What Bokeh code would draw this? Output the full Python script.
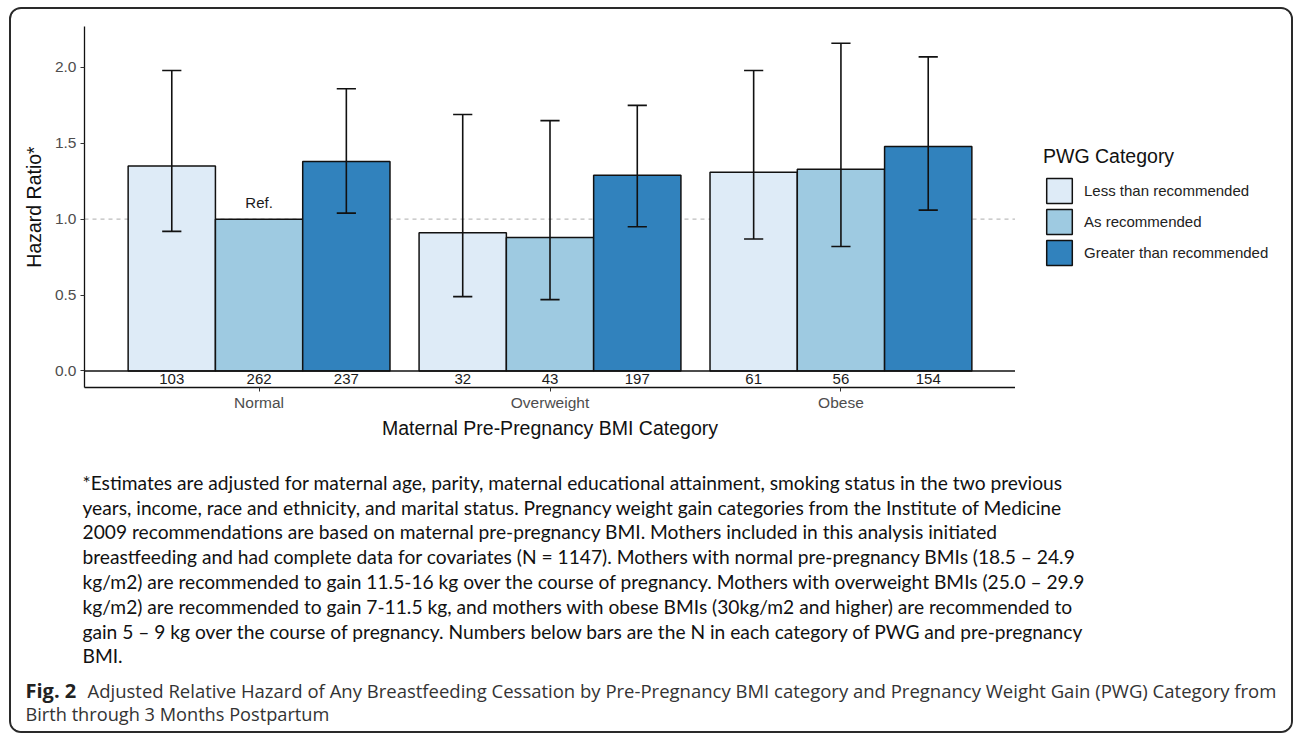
import math
from bokeh.plotting import figure
from bokeh.layouts import column, row
from bokeh.models import (ColumnDataSource, Legend, LegendItem, Label, Span, Range1d,
                          FixedTicker, PrintfTickFormatter)
from bokeh.embed import file_html
from bokeh.resources import INLINE
from bokeh.core.properties import value

nan = float("nan")

# ---------------- data ----------------
bmi_groups = ["Normal", "Overweight", "Obese"]
pwg_categories = ["Less than recommended", "As recommended", "Greater than recommended"]
hr_less = [1.35, 0.91, 1.31]
hr_as = [1.00, 0.88, 1.33]
hr_greater = [1.38, 1.29, 1.48]
lo_less = [0.92, 0.49, 0.87]
lo_as = [nan, 0.47, 0.82]
lo_greater = [1.04, 0.95, 1.06]
hi_less = [1.98, 1.69, 1.98]
hi_as = [nan, 1.65, 2.16]
hi_greater = [1.86, 1.75, 2.07]
n_less = [103, 32, 61]
n_as = [262, 43, 56]
n_greater = [237, 197, 154]
y_ticks = [0.0, 0.5, 1.0, 1.5, 2.0]
reference_text = "Ref."
legend_title = "PWG Category"
x_title = "Maternal Pre-Pregnancy BMI Category"
y_title = "Hazard Ratio*"

footnote_lines = [
    "*Estimates are adjusted for maternal age, parity, maternal educational attainment, smoking status in the two previous",
    "years, income, race and ethnicity, and marital status. Pregnancy weight gain categories from the Institute of Medicine",
    "2009 recommendations are based on maternal pre-pregnancy BMI. Mothers included in this analysis initiated",
    "breastfeeding and had complete data for covariates (N = 1147). Mothers with normal pre-pregnancy BMIs (18.5 \u2013 24.9",
    "kg/m2) are recommended to gain 11.5-16 kg over the course of pregnancy. Mothers with overweight BMIs (25.0 \u2013 29.9",
    "kg/m2) are recommended to gain 7-11.5 kg, and mothers with obese BMIs (30kg/m2 and higher) are recommended to",
    "gain 5 \u2013 9 kg over the course of pregnancy.  Numbers below bars are the N in each category of PWG and pre-pregnancy",
    "BMI.",
]
caption_bold = "Fig. 2"
caption_line1 = ("Adjusted Relative Hazard of Any Breastfeeding Cessation by Pre-Pregnancy BMI category "
                 "and Pregnancy Weight Gain (PWG) Category from")
caption_line2 = "Birth through 3 Months Postpartum"

# ---------------- style / layout ----------------
colors = ["#deebf7", "#9ecae1", "#3182bd"]
offsets = [-0.3, 0.0, 0.3]
bar_w = 0.3
cap_half = 0.033
OX, OY = 11, 9            # offset of the inner area on the page
W = 1280
W1 = 1015 - OX            # chart figure width (frame right edge = figure right edge)
W2 = W - W1               # legend figure width
H1 = 436                  # chart part
H2 = 286                  # text part
FL, FT, FB = 84 - OX, 17, 378
FONT = "Liberation Sans"

p = figure(width=W1, height=H1, x_range=(0.4, 3.6), y_range=(-0.109, 2.27),
           output_backend="svg", toolbar_location=None, frame_align=False,
           min_border_left=FL, min_border_right=0,
           min_border_top=FT, min_border_bottom=H1 - FB)
p.xgrid.visible = False
p.ygrid.visible = False
p.outline_line_color = None
p.background_fill_color = "white"
p.border_fill_color = "white"

# reference dashed line at 1
p.add_layout(Span(location=1.0, dimension="width", line_color="#bdbdbd",
                  line_width=1.2, line_dash="4 4", level="underlay"))

series = [
    (hr_less, lo_less, hi_less, n_less),
    (hr_as, lo_as, hi_as, n_as),
    (hr_greater, lo_greater, hi_greater, n_greater),
]
for i, (hr, lo, hi, nn) in enumerate(series):
    xs = [g + 1 + offsets[i] for g in range(len(bmi_groups))]
    src = ColumnDataSource(dict(x=xs, top=hr, lo=lo, hi=hi,
                                x0=[x - cap_half for x in xs], x1=[x + cap_half for x in xs],
                                n=[str(v) for v in nn], ny=[-0.055] * len(xs)))
    p.vbar(x="x", top="top", bottom=0, width=bar_w, source=src,
           fill_color=colors[i], line_color="#111111", line_width=1.5)
    p.segment(x0="x", x1="x", y0="lo", y1="hi", source=src, line_color="#111111", line_width=1.6)
    p.segment(x0="x0", x1="x1", y0="hi", y1="hi", source=src, line_color="#111111", line_width=1.6)
    p.segment(x0="x0", x1="x1", y0="lo", y1="lo", source=src, line_color="#111111", line_width=1.6)
    p.text(x="x", y="ny", text="n", source=src, text_align="center", text_baseline="middle",
           text_font=value(FONT), text_font_size="15px", text_color="#1a1a1a")

# Ref. label above the reference bar
p.text(x=[1 + offsets[1]], y=[hr_as[0] + 0.11], text=[reference_text], text_align="center",
       text_baseline="middle", text_font=value(FONT), text_font_size="15px", text_color="#1a1a1a")

# zero line
p.add_layout(Span(location=0.0, dimension="width", line_color="#111111", line_width=1.6))

# axes
p.yaxis.ticker = FixedTicker(ticks=y_ticks)
p.yaxis.formatter = PrintfTickFormatter(format="%.1f")
p.xaxis.ticker = FixedTicker(ticks=[1, 2, 3])
p.xaxis.major_label_overrides = {1: bmi_groups[0], 2: bmi_groups[1], 3: bmi_groups[2]}
for ax in (p.xaxis, p.yaxis):
    ax.minor_tick_line_color = None
    ax.major_tick_out = 4
    ax.major_tick_in = 0
    ax.major_tick_line_color = "#333333"
    ax.axis_line_color = "#111111"
    ax.axis_line_width = 1.3
    ax.major_label_text_font = FONT
    ax.major_label_text_font_size = "15.5px"
    ax.major_label_text_color = "#4d4d4d"
    ax.axis_label_text_font = FONT
    ax.axis_label_text_font_size = "19.5px"
    ax.axis_label_text_font_style = "normal"
    ax.axis_label_text_color = "#111111"
p.xaxis.axis_label = x_title
p.yaxis.axis_label = y_title
p.xaxis.major_label_standoff = 2
p.xaxis.axis_label_standoff = 3
p.yaxis.major_label_standoff = 4
p.yaxis.axis_label_standoff = 7

# ---------------- legend part ----------------
lg = figure(width=W2, height=H1, x_range=Range1d(0, W2), y_range=Range1d(H1, 0),
            output_backend="svg", toolbar_location=None, x_axis_type=None, y_axis_type=None,
            min_border=0, outline_line_color=None, frame_align=False)
lg.xgrid.visible = False
lg.ygrid.visible = False
# legend keys: renderers holding no drawable point (NaN), used only for their style
key_renderers = [lg.vbar(x=[nan], top=[nan], width=1, fill_color=colors[i],
                         line_color="#111111", line_width=1.5) for i in range(3)]
items = [LegendItem(label=pwg_categories[i], renderers=[key_renderers[i]]) for i in range(3)]
legend = Legend(items=items, location=(28, 177), title=legend_title,
                title_text_font=FONT, title_text_font_size="19.5px", title_text_font_style="normal",
                title_text_color="#111111", title_standoff=7,
                label_text_font=FONT, label_text_font_size="15px", label_text_color="#222222",
                glyph_width=32, glyph_height=31, spacing=0, label_standoff=9,
                padding=5, margin=0, border_line_color=None, background_fill_alpha=0)
lg.add_layout(legend, "center")

# ---------------- text part ----------------
t = figure(width=W, height=H2, x_range=Range1d(0, W), y_range=Range1d(H2, 0),
           output_backend="svg", toolbar_location=None, x_axis_type=None, y_axis_type=None,
           min_border=0, outline_line_color=None, frame_align=False)
t.xgrid.visible = False
t.ygrid.visible = False
TY = 445  # page y of the text part top

for k, line in enumerate(footnote_lines):
    t.add_layout(Label(x=82 - OX, y=481.7 + 24.8 * k - TY, text=line,
                       text_font="Lato", text_font_size="19.2px", text_baseline="middle",
                       text_color="#111111"))

t.add_layout(Label(x=25 - OX, y=690 - TY, text=caption_bold,
                   text_font="Open Sans", text_font_size="20px", text_font_style="bold",
                   text_baseline="middle", text_color="#222222"))
t.add_layout(Label(x=87 - OX, y=690 - TY, text=caption_line1,
                   text_font="Open Sans", text_font_size="18.5px", text_baseline="middle",
                   text_color="#333333"))
t.add_layout(Label(x=25 - OX, y=713 - TY, text=caption_line2,
                   text_font="Open Sans", text_font_size="18.2px", text_baseline="middle",
                   text_color="#333333"))

layout = column(row(p, lg, spacing=0), t, spacing=0,
                styles={"margin-left": "9px", "margin-top": "7px",
                        "border": "2px solid #2a2a2a", "border-radius": "12px",
                        "overflow": "hidden", "background-color": "white"})

open("out.html", "w").write(file_html(layout, INLINE))
